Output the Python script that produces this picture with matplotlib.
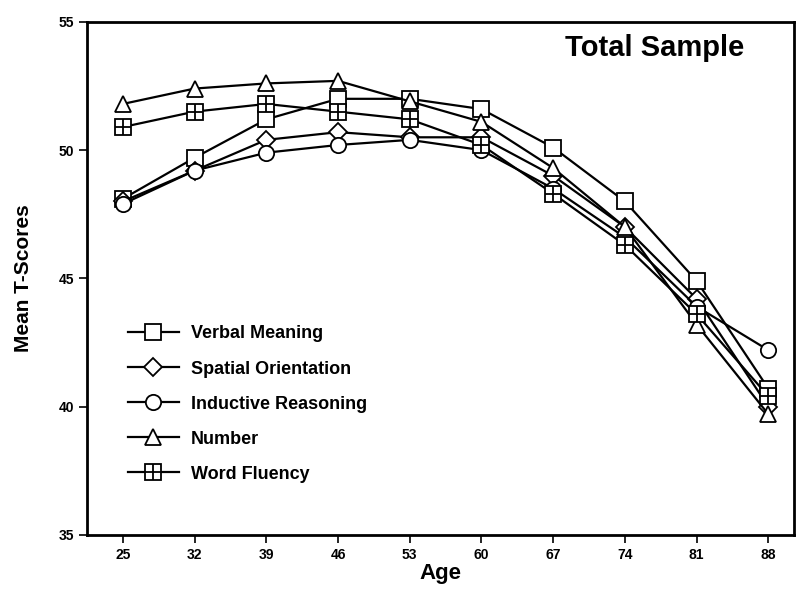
import matplotlib
matplotlib.use('Agg')
import matplotlib.pyplot as plt
from matplotlib.legend_handler import HandlerTuple

plt.rcParams['font.family'] = ['Liberation Sans', 'DejaVu Sans']

# ages and mean T-scores
ages = [25, 32, 39, 46, 53, 60, 67, 74, 81, 88]
verbal = [48.1, 49.7, 51.2, 52.0, 52.0, 51.6, 50.1, 48.0, 44.9, 40.7]
spatial = [48.0, 49.2, 50.4, 50.7, 50.5, 50.5, 49.0, 47.0, 44.2, 40.0]
inductive = [47.9, 49.2, 49.9, 50.2, 50.4, 50.0, 48.5, 46.6, 43.9, 42.2]
number = [51.8, 52.4, 52.6, 52.7, 51.9, 51.1, 49.3, 47.0, 43.2, 39.7]
fluency = [50.9, 51.5, 51.8, 51.5, 51.2, 50.2, 48.3, 46.3, 43.6, 40.4]

fig = plt.figure(figsize=(7.98, 5.91), dpi=100)
ax = fig.add_axes([0.109, 0.095, 0.886, 0.868])

kw = dict(color='black', lw=1.6, mfc='white', mec='black', mew=1.3)
h1, = ax.plot(ages, verbal, marker='s', ms=11, **kw)
h2, = ax.plot(ages, spatial, marker='D', ms=9, **kw)
h3, = ax.plot(ages, inductive, marker='o', ms=11, **kw)
h4, = ax.plot(ages, number, marker='^', ms=11, **kw)
h5, = ax.plot(ages, fluency, marker='s', ms=11, **kw)
# cross inside the word fluency squares
h5b, = ax.plot(ages, fluency, ls='none', marker='+', ms=11, mec='black', mew=1.3)

ax.set_xlim(21.5, 90.5)
ax.set_ylim(35, 55)
ax.set_xticks(ages)
ax.set_yticks([35, 40, 45, 50, 55])
ax.tick_params(direction='out', length=6, width=1.2, labelsize=10)
for lab in ax.get_xticklabels() + ax.get_yticklabels():
    lab.set_fontweight('bold')
for s in ax.spines.values():
    s.set_linewidth(2)

ax.set_xlabel('Age', fontsize=16, fontweight='bold', labelpad=1)
ax.set_ylabel('Mean T-Scores', fontsize=15, fontweight='bold', labelpad=18)

ax.text(0.93, 0.95, 'Total Sample', transform=ax.transAxes, ha='right',
        va='center', fontsize=21, fontweight='bold')

leg = ax.legend([h1, h2, h3, h4, (h5, h5b)],
                ['Verbal Meaning', 'Spatial Orientation', 'Inductive Reasoning',
                 'Number', 'Word Fluency'],
                handler_map={tuple: HandlerTuple(ndivide=1, pad=0)},
                loc='lower left', bbox_to_anchor=(0.035, 0.07), frameon=False,
                prop={'size': 13, 'weight': 'bold'}, handlelength=2.8,
                labelspacing=1.0, handletextpad=0.7)

fig.savefig('out.png', dpi=100)
